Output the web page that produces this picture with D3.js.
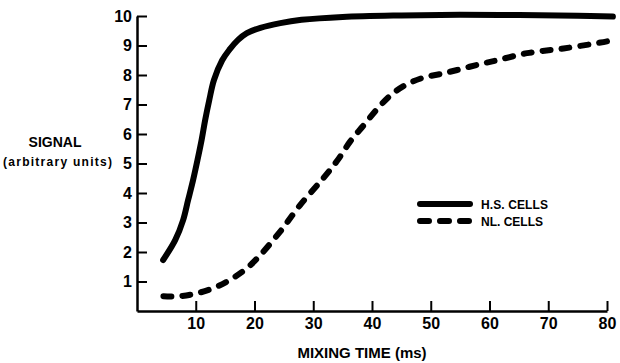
<!DOCTYPE html>
<html lang="en">
<head>
    <meta charset="UTF-8">
    <title>Signal vs Mixing Time</title>
    <script src="https://cdnjs.cloudflare.com/ajax/libs/d3/7.8.5/d3.min.js"></script>
    <style>
        body { margin: 0; background: #fff; }
        svg { display: block; }
        text { font-family: "Liberation Sans", Arial, sans-serif; font-weight: bold; fill: #000; }
        .axis path, .axis line { stroke: #000; }
        .axis text { font-size: 16px; font-family: "Liberation Sans", Arial, sans-serif; font-weight: bold; }
    </style>
</head>
<body>
<div id="chart"></div>
<script>
    // H.S. cells (solid curve)
    const hsTime   = [4.45, 6.5, 7.85, 8.7, 9.55, 10.3, 11.0, 11.6, 12.3, 13.1, 14.5, 15.7, 17.2, 18.7, 21, 24.4, 28, 35, 45, 55, 65, 75, 81];
    const hsSignal = [1.73, 2.4, 3.08, 3.76, 4.44, 5.12, 5.8, 6.47, 7.15, 7.83, 8.5, 8.85, 9.19, 9.42, 9.6, 9.76, 9.87, 9.97, 10.02, 10.04, 10.03, 10.01, 9.98];

    // NL. cells (dashed curve)
    const nlTime   = [4.5, 7.3, 10.2, 13.3, 16.2, 18.7, 21, 24.4, 27.8, 31.7, 34.1, 36.3, 38.6, 40.9, 43.1, 45.7, 48.6, 52, 54.5, 58, 61.3, 66.4, 72.6, 78.9, 80.2];
    const nlSignal = [0.5, 0.5, 0.6, 0.8, 1.1, 1.45, 1.9, 2.7, 3.6, 4.5, 5.1, 5.75, 6.3, 6.85, 7.3, 7.66, 7.9, 8.05, 8.17, 8.35, 8.5, 8.74, 8.9, 9.1, 9.15];

    const xTicks = [10, 20, 30, 40, 50, 60, 70, 80];
    const yTicks = [1, 2, 3, 4, 5, 6, 7, 8, 9, 10];
    const legendLabels = ["H.S. CELLS", "NL. CELLS"];

    const width = 620, height = 363;
    const svg = d3.select("#chart").append("svg")
        .attr("width", width)
        .attr("height", height);

    const x = d3.scaleLinear().domain([0, 80]).range([137, 607]);
    const y = d3.scaleLinear().domain([0, 10]).range([311, 16]);

    // axes, ticks point inward
    svg.append("g")
        .attr("class", "axis")
        .attr("transform", "translate(0,311)")
        .call(d3.axisBottom(x).tickValues(xTicks).tickSizeInner(-10).tickSizeOuter(0).tickPadding(7))
        .call(g => g.select(".domain").attr("stroke-width", 2.5))
        .call(g => g.selectAll(".tick line").attr("stroke-width", 2));

    svg.append("g")
        .attr("class", "axis")
        .attr("transform", "translate(137,0)")
        .call(d3.axisLeft(y).tickValues(yTicks).tickSizeInner(-10).tickSizeOuter(0).tickPadding(5))
        .call(g => g.select(".domain").attr("stroke-width", 2.5))
        .call(g => g.selectAll(".tick line").attr("stroke-width", 2));

    const line = d3.line()
        .x(d => x(d[0]))
        .y(d => y(d[1]))
        .curve(d3.curveCatmullRom.alpha(0.5));

    const hs = hsTime.map((t, i) => [t, hsSignal[i]]);
    const nl = nlTime.map((t, i) => [t, nlSignal[i]]);

    svg.append("path")
        .datum(hs)
        .attr("d", line)
        .attr("fill", "none")
        .attr("stroke", "#000")
        .attr("stroke-width", 6)
        .attr("stroke-linecap", "round");

    svg.append("path")
        .datum(nl)
        .attr("d", line)
        .attr("fill", "none")
        .attr("stroke", "#000")
        .attr("stroke-width", 6)
        .attr("stroke-linecap", "round")
        .attr("stroke-dasharray", "8,11");

    // axis titles
    svg.append("text")
        .attr("x", 362).attr("y", 358)
        .attr("text-anchor", "middle")
        .style("font-size", "15px")
        .text("MIXING TIME (ms)");

    svg.append("text")
        .attr("x", 55).attr("y", 147)
        .attr("text-anchor", "middle")
        .style("font-size", "14px")
        .text("SIGNAL");

    svg.append("text")
        .attr("x", 3).attr("y", 166)
        .attr("textLength", 109)
        .style("font-size", "12px")
        .text("(arbitrary units)");

    // legend
    const legend = svg.append("g");
    legendLabels.forEach((label, i) => {
        const ly = 204 + i * 17;
        legend.append("line")
            .attr("x1", 420).attr("x2", 470)
            .attr("y1", ly).attr("y2", ly)
            .attr("stroke", "#000")
            .attr("stroke-width", 6)
            .attr("stroke-linecap", "round")
            .attr("stroke-dasharray", i === 0 ? null : "9,11");
        legend.append("text")
            .attr("x", 481).attr("y", ly + 5)
            .attr("textLength", i === 0 ? 67 : 62)
            .style("font-size", "12px")
            .text(label);
    });
</script>
</body>
</html>
